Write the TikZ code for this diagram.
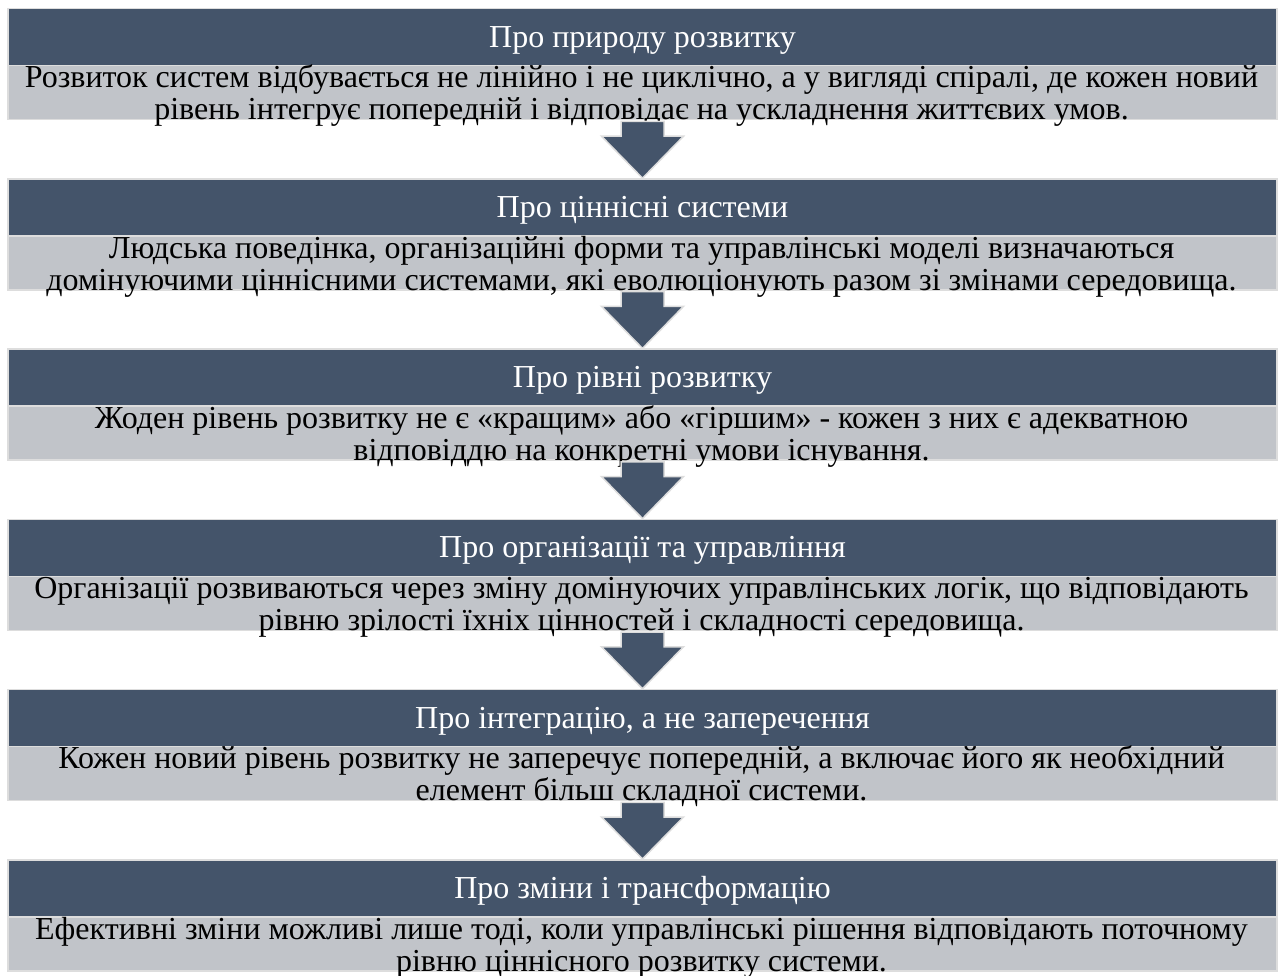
\documentclass[tikz,border=0pt]{standalone}
\usepackage{fontspec}
\setmainfont{Liberation Serif}
\usetikzlibrary{calc}
\definecolor{hdrblue}{RGB}{68,84,106}
\definecolor{bodygray}{RGB}{193,196,201}
\definecolor{rimgray}{RGB}{221,221,221}

\begin{document}
\begin{tikzpicture}[x=1pt,y=-1pt,
  hdrbox/.style={fill=hdrblue, draw=rimgray, line width=1.5pt, minimum width=1269pt,
    minimum height=57pt, inner sep=0pt, anchor=north},
  bodybox/.style={fill=bodygray, draw=rimgray, line width=1.5pt, minimum width=1269pt,
    minimum height=54pt, inner sep=0pt, anchor=north},
  hdrtext/.style={text=white, font=\fontsize{32}{36}\selectfont, inner sep=0pt, anchor=base},
  bodytext/.style={text=black, font=\fontsize{32}{32}\selectfont, inner sep=0pt, anchor=base},
  downarrow/.style={fill=hdrblue, draw=rimgray, line width=1.5pt, line join=miter}
]
\useasboundingbox (0,0) rectangle (1281,976);

% six stacked blocks: dark header bar over a grey text bar
\foreach \i/\t in {1/8, 2/178.2, 3/348.4, 4/518.6, 5/688.8, 6/859}{
  \node[hdrbox] (h\i) at (642.5,\t) {};
  \node[bodybox] (b\i) at (642.5,\t+57) {};
}

% header captions
\node[hdrtext] (c1) at ($(h1.north)+(0,39.3)$) {Про природу розвитку};
\node[hdrtext] (c2) at ($(h2.north)+(0,39.3)$) {Про ціннісні системи};
\node[hdrtext] (c3) at ($(h3.north)+(0,39.3)$) {Про рівні розвитку};
\node[hdrtext] (c4) at ($(h4.north)+(0,39.3)$) {Про організації та управління};
\node[hdrtext] (c5) at ($(h5.north)+(0,39.3)$) {Про інтеграцію, а не заперечення};
\node[hdrtext] (c6) at ($(h6.north)+(0,39.3)$) {Про зміни і трансформацію};

% body texts, two centred lines each
\node[bodytext] (t1a) at ($(b1.north)+(-1,23)$) {Розвиток систем відбувається не лінійно і не циклічно, а у вигляді спіралі, де кожен новий};
\node[bodytext] (t1b) at ($(b1.north)+(-1,55)$) {рівень інтегрує попередній і відповідає на ускладнення життєвих умов.};
\node[bodytext] (t2a) at ($(b2.north)+(-1,23)$) {Людська поведінка, організаційні форми та управлінські моделі визначаються};
\node[bodytext] (t2b) at ($(b2.north)+(-1,55)$) {домінуючими ціннісними системами, які еволюціонують разом зі змінами середовища.};
\node[bodytext] (t3a) at ($(b3.north)+(-1,23)$) {Жоден рівень розвитку не є «кращим» або «гіршим» - кожен з них є адекватною};
\node[bodytext] (t3b) at ($(b3.north)+(-1,55)$) {відповіддю на конкретні умови існування.};
\node[bodytext] (t4a) at ($(b4.north)+(-1,23)$) {Організації розвиваються через зміну домінуючих управлінських логік, що відповідають};
\node[bodytext] (t4b) at ($(b4.north)+(-1,55)$) {рівню зрілості їхніх цінностей і складності середовища.};
\node[bodytext] (t5a) at ($(b5.north)+(-1,23)$) {Кожен новий рівень розвитку не заперечує попередній, а включає його як необхідний};
\node[bodytext] (t5b) at ($(b5.north)+(-1,55)$) {елемент більш складної системи.};
\node[bodytext] (t6a) at ($(b6.north)+(-1,23)$) {Ефективні зміни можливі лише тоді, коли управлінські рішення відповідають поточному};
\node[bodytext] (t6b) at ($(b6.north)+(-1,55)$) {рівню ціннісного розвитку системи.};

% block arrows from each grey bar down to the next header
\foreach \i/\j in {1/2, 2/3, 3/4, 4/5, 5/6}{
  \draw[downarrow]
    ($(b\i.south)+(-21.5,1)$) -- ($(b\i.south)+(21.5,1)$)
    -- ($(h\j.north)+(21.5,-42)$) -- ($(h\j.north)+(41,-42)$)
    -- (h\j.north)
    -- ($(h\j.north)+(-41,-42)$) -- ($(h\j.north)+(-21.5,-42)$)
    -- cycle;
}
\end{tikzpicture}
\end{document}
